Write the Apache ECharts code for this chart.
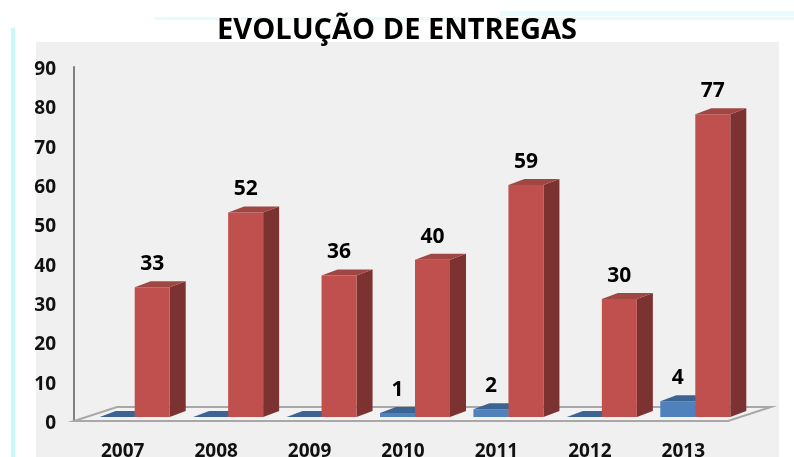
<!DOCTYPE html>
<html><head><meta charset="utf-8">
<style>html,body{margin:0;padding:0;background:#fff}#c{width:794px;height:457px}</style>
<script src="https://cdn.jsdelivr.net/npm/echarts@6/dist/echarts.min.js"></script>
</head><body><div id="c"></div>
<script>
const categories = ['2007','2008','2009','2010','2011','2012','2013'];
const blueValues = [0,0,0,1,2,0,4];
const redValues = [33,52,36,40,59,30,77];
const yTicks = {min:0,max:90,interval:10};
const titleText = 'EVOLUÇÃO DE ENTREGAS';

const FONT = '"Open Sans","Noto Sans",sans-serif';
const depth = {x:16,y:-6}, inset = 4;

function bar3d(c, off, w, colors){
  return function(params, api){
    const i = api.value(0), v = api.value(1);
    const base = api.coord([i,0]), top = api.coord([i,v]);
    const x0 = base[0]+off, x1 = x0+w, yb = base[1]-inset, yt = top[1]-inset;
    const dx = depth.x, dy = depth.y;
    const kids = [];
    if (v>0) {
      kids.push({type:'polygon',shape:{points:[[x1,yb],[x1+dx,yb+dy],[x1+dx,yt+dy],[x1,yt]]},style:{fill:colors.side}});
      kids.push({type:'rect',shape:{x:x0,y:yt,width:w,height:yb-yt},style:{fill:colors.front}});
    }
    kids.push({type:'polygon',shape:{points:[[x0,yt],[x1,yt],[x1+dx,yt+dy],[x0+dx,yt+dy]]},style:{fill:colors.top}});
    if (v>0) kids.push({type:'text',style:{text:String(v),x:(x0+x1)/2,y:yt+dy-17,align:'center',verticalAlign:'middle',
      font:'bold 21px '+FONT,fill:'#000'}});
    return {type:'group',children:kids};
  };
}

const chart = echarts.init(document.getElementById('c'),null,{renderer:'canvas'});
chart.setOption({
  animation:false,
  backgroundColor:'#fff',
  graphic:[
    {type:'rect',silent:true,z:-10,shape:{x:36,y:42,width:743,height:415},style:{fill:'#f0f0f0'}},
    {type:'rect',silent:true,z:-10,shape:{x:11,y:28,width:4,height:429},style:{fill:'#c8fafa'}},
    {type:'rect',silent:true,z:-10,shape:{x:155,y:17,width:639,height:3},style:{fill:'#e6fbfb'}},
    {type:'rect',silent:true,z:-10,shape:{x:500,y:11,width:294,height:5},style:{fill:'#e9fbfb'}}
  ],
  title:{text:titleText,left:392,top:11,textAlign:'center',textStyle:{fontFamily:FONT,fontWeight:'bold',fontSize:29,color:'#000'}},
  grid:{left:76,top:67,width:654,height:354,outerBoundsMode:'none'},
  xAxis:{type:'category',data:categories,axisLine:{show:false},axisTick:{show:false},
    axisLabel:{margin:21,fontFamily:FONT,fontWeight:'bold',fontSize:19,color:'#111'}},
  yAxis:{type:'value',min:yTicks.min,max:yTicks.max,interval:yTicks.interval,offset:2,splitLine:{show:false},
    axisTick:{show:false},axisLine:{show:true,lineStyle:{color:'#7f7f7f',width:2}},
    axisLabel:{margin:18,verticalAlign:'top',lineHeight:5,fontFamily:FONT,fontWeight:'bold',fontSize:19,color:'#111'}},
  series:[
    {type:'custom',coordinateSystem:'cartesian2d',silent:true,z:1,data:[[0,0]],
     renderItem:function(params,api){
       const cs=params.coordSys, yb=cs.y+cs.height, xl=cs.x-2, xr=cs.x+cs.width-2;
       return {type:'polygon',shape:{points:[[xl,yb],[xr,yb],[xr+43,yb-14],[xl+43,yb-14]]},
         style:{fill:'#f2f2f2',stroke:'#a8a8a8',lineWidth:2}};
     }},
    {type:'custom',name:'Azul',coordinateSystem:'cartesian2d',z:2,
     data:blueValues.map((v,i)=>[i,v]),encode:{x:0,y:1},
     renderItem:bar3d(0,-23,35,{front:'#4f81bd',side:'#3a6190',top:'#3c6492'})},
    {type:'custom',name:'Vermelho',coordinateSystem:'cartesian2d',z:3,
     data:redValues.map((v,i)=>[i,v]),encode:{x:0,y:1},
     renderItem:bar3d(0,12,35,{front:'#c0504d',side:'#7b3230',top:'#a04744'})}
  ]
});
</script></body></html>
